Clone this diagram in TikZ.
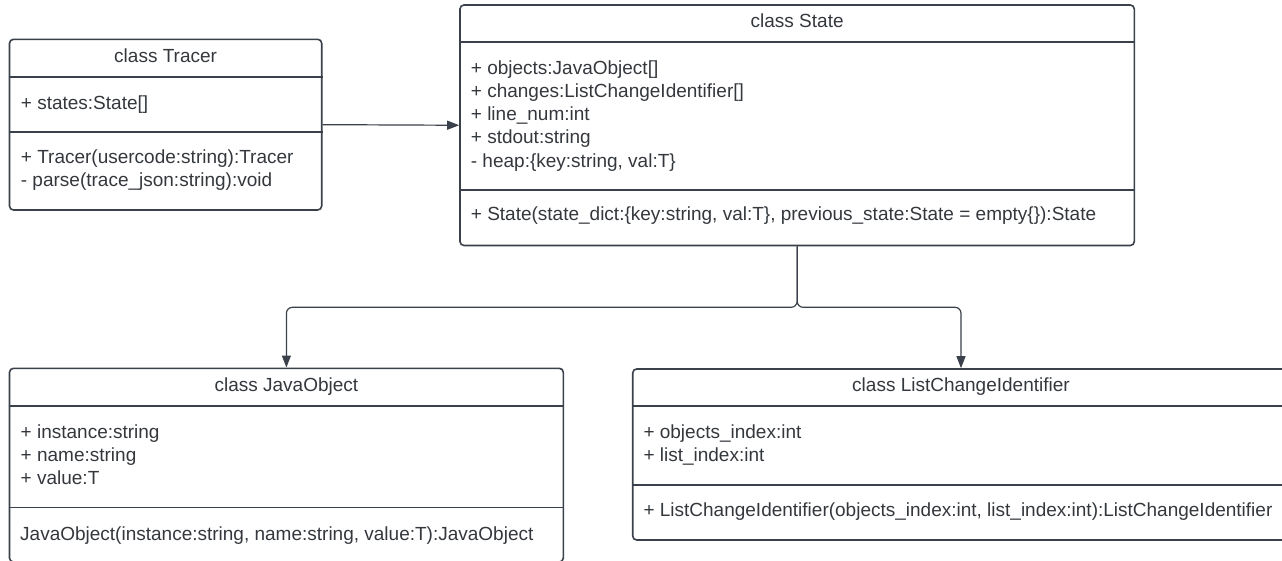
\documentclass[tikz,border=0pt]{standalone}
\usepackage{fontspec}
\setmainfont{Liberation Sans}
\usetikzlibrary{arrows.meta}
\definecolor{umlline}{HTML}{3A414A}
\definecolor{umltext}{HTML}{34383D}
\tikzset{
  classbox/.style={draw=umlline, line width=1.6pt, rounded corners=4pt, inner sep=0pt},
  divider/.style={draw=umlline, line width=1.6pt},
  member/.style={anchor=base west, inner sep=0pt, text=umltext, font=\fontsize{19}{23}\selectfont},
  classname/.style={anchor=base, inner sep=0pt, text=umltext, font=\fontsize{19}{23}\selectfont},
  assoc/.style={draw=umlline, line width=1.2pt, -{Triangle[length=12pt,width=9pt]}},
}
\begin{document}
\begin{tikzpicture}[x=1pt,y=-1pt]
  \useasboundingbox (0,0) rectangle (1282,560);
  % class Tracer
  \node[classbox, minimum width=312.2pt, minimum height=170.7pt] (tracer) at (165.6,124.65) {};
  \draw[divider] (tracer.west |- 0,76.7) -- (tracer.east |- 0,76.7);
  \draw[divider] (tracer.west |- 0,131.7) -- (tracer.east |- 0,131.7);
  \node[classname] (tracer-t) at (165.6,62.3) {class Tracer};
  \node[member] (tracer-a1) at (20.7,109) {+ states:State[]};
  \node[member] (tracer-m1) at (20.7,163.3) {+ Tracer(usercode:string):Tracer};
  \node[member] (tracer-m2) at (20.7,186.6) {- parse(trace\_json:string):void};
  % class State
  \node[classbox, minimum width=674.3pt, minimum height=240.5pt] (state) at (797.15,125.25) {};
  \draw[divider] (state.west |- 0,41.7) -- (state.east |- 0,41.7);
  \draw[divider] (state.west |- 0,190) -- (state.east |- 0,190);
  \node[classname] (state-t) at (797.15,27.3) {class State};
  \foreach \txt [count=\i] in {{+ objects:JavaObject[]}, {+ changes:ListChangeIdentifier[]},
      {+ line\_num:int}, {+ stdout:string}, {- heap:\{key:string, val:T\}}}
    \node[member] (state-a\i) at (470.7,{74+23.3*(\i-1)}) {\txt};
  \node[member] (state-m1) at (470.7,220) {+ State(state\_dict:\{key:string, val:T\}, previous\_state:State = empty\{\}):State};
  % class JavaObject
  \node[classbox, minimum width=553.8pt, minimum height=193.7pt] (jobj) at (286.4,465.15) {};
  \draw[divider] (jobj.west |- 0,405.7) -- (jobj.east |- 0,405.7);
  \draw[divider] (jobj.west |- 0,507.3) -- (jobj.east |- 0,507.3);
  \node[classname] (jobj-t) at (286.4,391) {class JavaObject};
  \foreach \txt [count=\i] in {{+ instance:string}, {+ name:string}, {+ value:T}}
    \node[member] (jobj-a\i) at (20.5,{438.3+23.3*(\i-1)}) {\txt};
  \node[member] (jobj-m1) at (20,540) {JavaObject(instance:string, name:string, value:T):JavaObject};
  % class ListChangeIdentifier
  \node[classbox, minimum width=656.6pt, minimum height=171pt] (lci) at (961,454.5) {};
  \draw[divider] (lci.west |- 0,405.7) -- (lci.east |- 0,405.7);
  \draw[divider] (lci.west |- 0,485) -- (lci.east |- 0,485);
  \node[classname] (lci-t) at (961,391.7) {class ListChangeIdentifier};
  \foreach \txt [count=\i] in {{+ objects\_index:int}, {+ list\_index:int}}
    \node[member] (lci-a\i) at (643.3,{438.3+23.3*(\i-1)}) {\txt};
  \node[member] (lci-m1) at (643.3,516.7) {+ ListChangeIdentifier(objects\_index:int, list\_index:int):ListChangeIdentifier};
  % associations
  \draw[assoc] (tracer.east) -- (state.west);
  \draw[assoc, rounded corners=6pt] (state.south) -- ++(0,61) -| (jobj.north);
  \draw[assoc, rounded corners=6pt] (state.south) -- ++(0,61) -| (lci.north);
\end{tikzpicture}
\end{document}
